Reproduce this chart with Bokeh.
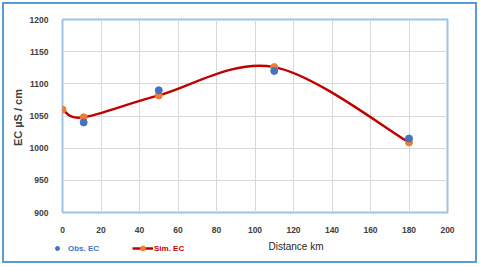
import numpy as np
from bokeh.plotting import figure
from bokeh.layouts import column
from bokeh.models import Label, Legend, LegendItem, FixedTicker, Range1d
from bokeh.embed import file_html
from bokeh.resources import INLINE

# data
sim_distance_km = [0, 11, 50, 110, 180]
sim_ec = [1060, 1048, 1082, 1126, 1009]
obs_distance_km = [11, 50, 110, 180]
obs_ec = [1040, 1090, 1120, 1015]
x_ticks = [0, 20, 40, 60, 80, 100, 120, 140, 160, 180, 200]
y_ticks = [900, 950, 1000, 1050, 1100, 1150, 1200]

FONT = "Liberation Sans"
BLUE = "#4472C4"
ORANGE = "#ED7D31"
RED = "#C00000"
GRAY = "#404040"

p = figure(width=471, height=232, output_backend="svg", toolbar_location=None,
           x_range=Range1d(0, 200), y_range=Range1d(900, 1200),
           min_border_left=58, min_border_right=28, min_border_top=15, min_border_bottom=24)
p.background_fill_color = "white"
p.border_fill_color = "white"
p.outline_line_color = "#9DC3E6"
p.outline_line_width = 2

for ax in (p.xaxis[0], p.yaxis[0]):
    ax.axis_line_color = None
    ax.major_tick_line_color = None
    ax.minor_tick_line_color = None
    ax.major_label_text_font = FONT
    ax.major_label_text_font_style = "bold"
    ax.major_label_text_font_size = "8.5px"
    ax.major_label_text_color = GRAY
p.xaxis.ticker = FixedTicker(ticks=x_ticks)
p.yaxis.ticker = FixedTicker(ticks=y_ticks)
p.xaxis.major_label_standoff = 8
p.yaxis.major_label_standoff = 8
p.yaxis.axis_label = "EC  µS / cm"
p.yaxis.axis_label_text_font = FONT
p.yaxis.axis_label_text_font_style = "bold"
p.yaxis.axis_label_text_font_size = "11px"
p.yaxis.axis_label_text_color = GRAY
p.yaxis.axis_label_standoff = 3
p.xgrid.ticker = FixedTicker(ticks=x_ticks)
p.ygrid.ticker = FixedTicker(ticks=y_ticks)
p.grid.grid_line_color = "#D9D9D9"
p.grid.grid_line_width = 1

# smoothed line (Catmull-Rom style bezier through simulated points)
xs = np.array(sim_distance_km, float)
ys = np.array(sim_ec, float)
n = len(xs)
xe = np.concatenate([[xs[0]], xs, [xs[-1]]])
ye = np.concatenate([[ys[0]], ys, [ys[-1]]])
i = np.arange(n - 1)
cx0 = xs[i] + (xe[i + 2] - xe[i]) / 6
cy0 = ys[i] + (ye[i + 2] - ye[i]) / 6
cx1 = xs[i + 1] - (xe[i + 3] - xe[i + 1]) / 6
cy1 = ys[i + 1] - (ye[i + 3] - ye[i + 1]) / 6
p.bezier(x0=xs[:-1], y0=ys[:-1], x1=xs[1:], y1=ys[1:], cx0=cx0, cy0=cy0, cx1=cx1, cy1=cy1,
         line_color=RED, line_width=2.5)

sim_r = p.scatter(sim_distance_km, sim_ec, size=7, fill_color=ORANGE, line_color=ORANGE)
obs_r = p.scatter(obs_distance_km, obs_ec, size=7, fill_color=BLUE, line_color=BLUE)

# legend strip below the chart
q = figure(width=471, height=25, output_backend="svg", toolbar_location=None,
           x_range=Range1d(0, 1), y_range=Range1d(0, 1),
           x_axis_type=None, y_axis_type=None,
           min_border_left=0, min_border_right=0, min_border_top=0, min_border_bottom=0)
q.grid.visible = False
q.outline_line_color = None
q.background_fill_color = "white"
q.border_fill_color = "white"
obs_leg = q.scatter([np.nan], [np.nan], size=7, fill_color=BLUE, line_color=BLUE)
sim_line_leg = q.line([np.nan], [np.nan], line_color=RED, line_width=2.5)
sim_pt_leg = q.scatter([np.nan], [np.nan], size=7, fill_color=ORANGE, line_color=ORANGE)

leg1 = Legend(items=[LegendItem(label="Obs. EC", renderers=[obs_leg])], location=(48, 7),
              glyph_width=10, glyph_height=12, label_standoff=6, padding=0, margin=0,
              border_line_color=None, background_fill_alpha=0,
              label_text_font=FONT, label_text_font_style="bold", label_text_font_size="8px",
              label_text_color=BLUE, label_height=12)
leg2 = Legend(items=[LegendItem(label="Sim. EC", renderers=[sim_line_leg, sim_pt_leg])], location=(128, 7),
              glyph_width=21, glyph_height=12, label_standoff=1, padding=0, margin=0,
              border_line_color=None, background_fill_alpha=0,
              label_text_font=FONT, label_text_font_style="bold", label_text_font_size="8px",
              label_text_color=RED, label_height=12)
q.add_layout(leg1)
q.add_layout(leg2)
q.add_layout(Label(x=264, y=15, x_units="screen", y_units="screen", text="Distance km",
                   text_font=FONT, text_font_size="10px",
                   text_color="#262626", text_baseline="middle"))

layout = column(column(p), column(q), spacing=0)
layout.styles = {"border": "2px solid #5B9BD5", "margin": "2px 0 0 2px"}
open("out.html", "w").write(file_html(layout, INLINE))
